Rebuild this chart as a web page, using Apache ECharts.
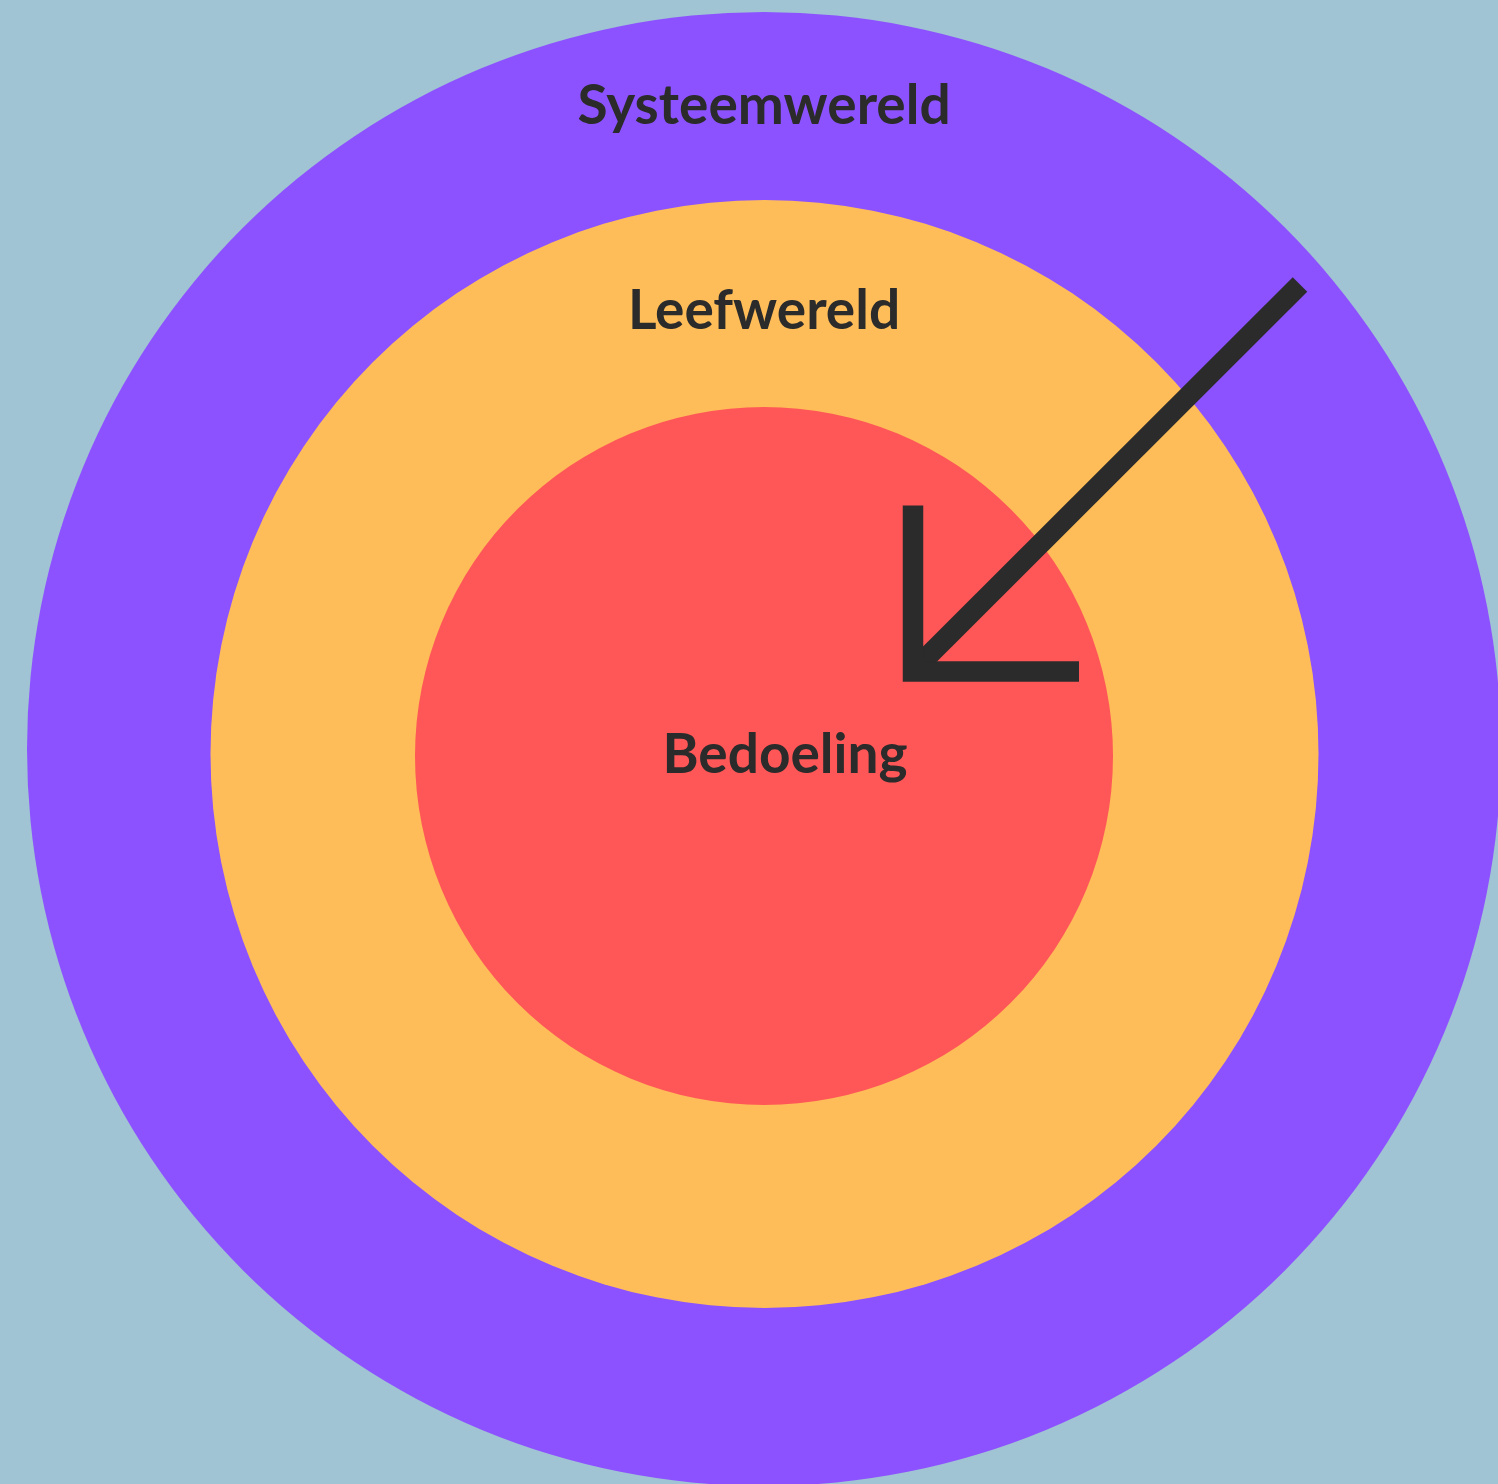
<!DOCTYPE html>
<html>
<head>
<meta charset="utf-8">
<style>html,body{margin:0;padding:0;background:#A0C4D3;}#c{width:1498px;height:1484px;}</style>
<script src="https://cdn.jsdelivr.net/npm/echarts@6/dist/echarts.min.js"></script>
</head>
<body>
<div id="c"></div>
<script>
// Diagram content
const rings = ['Systeemwereld', 'Leefwereld', 'Bedoeling'];
const ringValues = [1, 1, 1];

const ringColors = ['#8C52FF', '#FFBD59', '#FF5757'];
const ringCenters = [[764, 749], [764.5, 754], [764, 756]];
const ringRadii = [737, 554, 349];
const labelPos = [[764, 106], [764, 311], [785, 755]];
const ink = '#2B2B2B';

const chart = echarts.init(document.getElementById('c'), null, {renderer: 'canvas'});

const series = rings.map((name, i) => ({
  type: 'pie',
  silent: true,
  center: ringCenters[i],
  radius: [0, ringRadii[i]],
  startAngle: 90,
  label: {show: false},
  labelLine: {show: false},
  itemStyle: {color: ringColors[i], borderWidth: 0},
  emphasis: {disabled: true},
  data: [{name: name, value: ringValues[i]}],
  z: i + 1
}));

const texts = rings.map((name, i) => ({
  type: 'text',
  x: labelPos[i][0],
  y: labelPos[i][1],
  z: 100,
  style: {
    text: name,
    fill: ink,
    font: 'bold 55px Lato',
    textAlign: 'center',
    textVerticalAlign: 'middle'
  }
}));

chart.setOption({
  backgroundColor: '#A0C4D3',
  animation: false,
  series: series,
  graphic: texts.concat([
    {
      type: 'line', z: 90,
      shape: {x1: 1300, y1: 284.5, x2: 916, y2: 668},
      style: {stroke: ink, lineWidth: 20.5, lineCap: 'butt'}
    },
    {
      type: 'polyline', z: 91,
      shape: {points: [[913, 505.5], [913, 671.5], [1079, 671.5]]},
      style: {stroke: ink, lineWidth: 20.5, lineJoin: 'miter', lineCap: 'butt', fill: null}
    }
  ])
});
</script>
</body>
</html>
